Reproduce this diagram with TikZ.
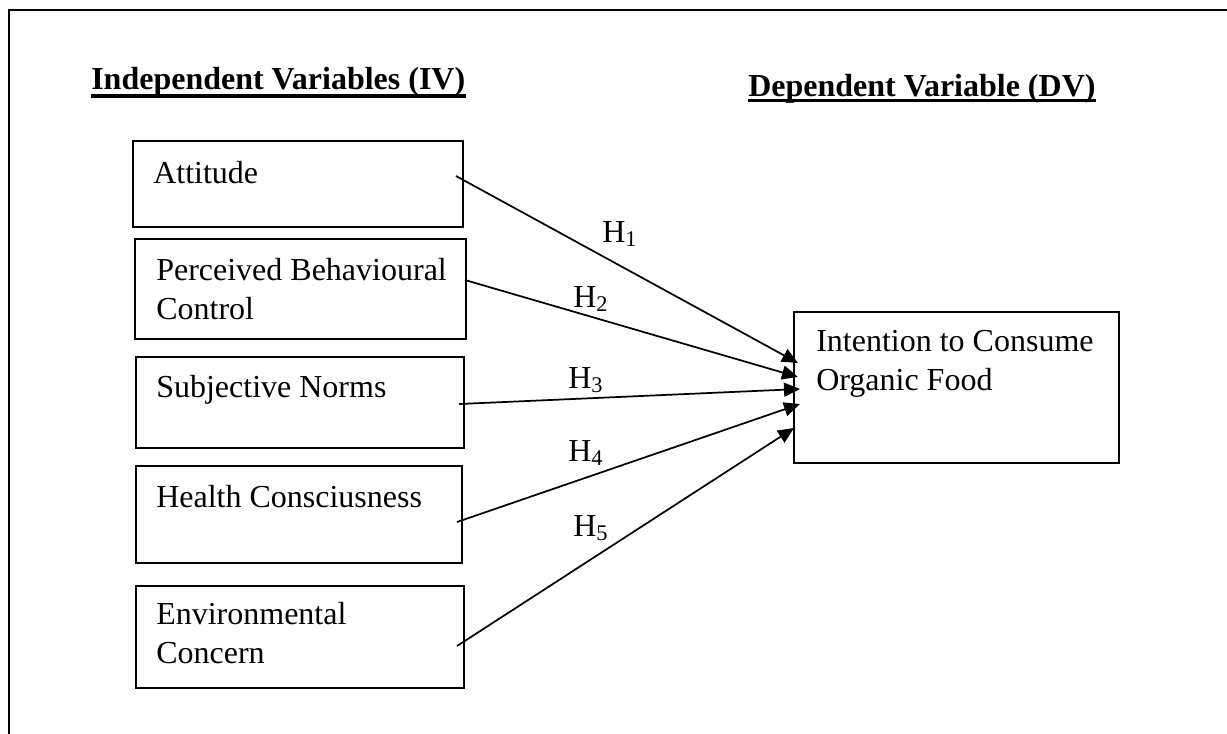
\documentclass[tikz,border=0pt]{standalone}
\usepackage{fontspec}
\setmainfont{Liberation Serif}
\usetikzlibrary{arrows.meta,fit}
\begin{document}
\begin{tikzpicture}[x=0.75pt,y=-0.75pt,
  varbox/.style={draw,line width=1.5pt,inner sep=0pt,fit={#1}},
  boxtext/.style={anchor=base west,inner sep=0pt,align=left,
    font=\fontsize{24}{29}\selectfont},
  heading/.style={anchor=base west,inner sep=0pt,
    font=\fontsize{24}{29}\selectfont\bfseries},
  hyp/.style={anchor=base west,inner sep=0pt,font=\fontsize{24}{29}\selectfont},
  link/.style={line width=1.3pt,-{Triangle[length=12pt,width=10.5pt]}},
  uline/.style={line width=2.6pt}]
\useasboundingbox (0,0) rectangle (1227,733);
% outer frame (left and top edges)
\draw[line width=2pt] (9,740) -- (9,10) -- (1235,10);

% headings
\node[heading] (iv) at (91,89) {Independent Variables (IV)};
\node[heading] (dv) at (748,96) {Dependent Variable (DV)};
\draw[uline] ([yshift=-5.2pt]iv.base west) -- ([yshift=-5.2pt]iv.base east);
\draw[uline] ([yshift=-3.5pt]dv.base west) -- ([yshift=-3.5pt]dv.base east);

% independent variable boxes
\node[varbox={(133,141) (463,227)}] (att) {};
\node[varbox={(135,239) (466,339)}] (pbc) {};
\node[varbox={(136,357) (464,448)}] (sn) {};
\node[varbox={(136,466) (462,563)}] (hc) {};
\node[varbox={(136,586) (464,688)}] (ec) {};
% box labels (multi-line labels sit on the baseline of their last line)
\node[boxtext] (attT) at (153,183) {Attitude};
\node[boxtext] (pbcT) at (156,319) {Perceived Behavioural\\Control};
\node[boxtext] (snT) at (156,397) {Subjective Norms};
\node[boxtext] (hcT) at (156,507) {Health Consciusness};
\node[boxtext] (ecT) at (156,663) {Environmental\\Concern};

% dependent variable box
\node[varbox={(794,312) (1119,463)}] (ic) {};
\node[boxtext] (icT) at (816,390) {Intention to Consume\\Organic Food};

% connector end points
\coordinate (s1) at (456,176);
\coordinate (s2) at (465,280);
\coordinate (s3) at (459,404);
\coordinate (s4) at (457,522);
\coordinate (s5) at (457,646);
\coordinate (t1) at (798,363);
\coordinate (t2) at (798,377);
\coordinate (t3) at (800,389);
\coordinate (t4) at (800,404);
\coordinate (t5) at (794,428);

\draw[link] (s1) -- (t1);
\draw[link] (s2) -- (t2);
\draw[link] (s3) -- (t3);
\draw[link] (s4) -- (t4);
\draw[link] (s5) -- (t5);

% hypothesis labels
\node[hyp] (h1) at (602,242) {H\textsubscript{1}};
\node[hyp] (h2) at (573,307) {H\textsubscript{2}};
\node[hyp] (h3) at (568,388) {H\textsubscript{3}};
\node[hyp] (h4) at (568,461) {H\textsubscript{4}};
\node[hyp] (h5) at (573,536) {H\textsubscript{5}};
\end{tikzpicture}
\end{document}
